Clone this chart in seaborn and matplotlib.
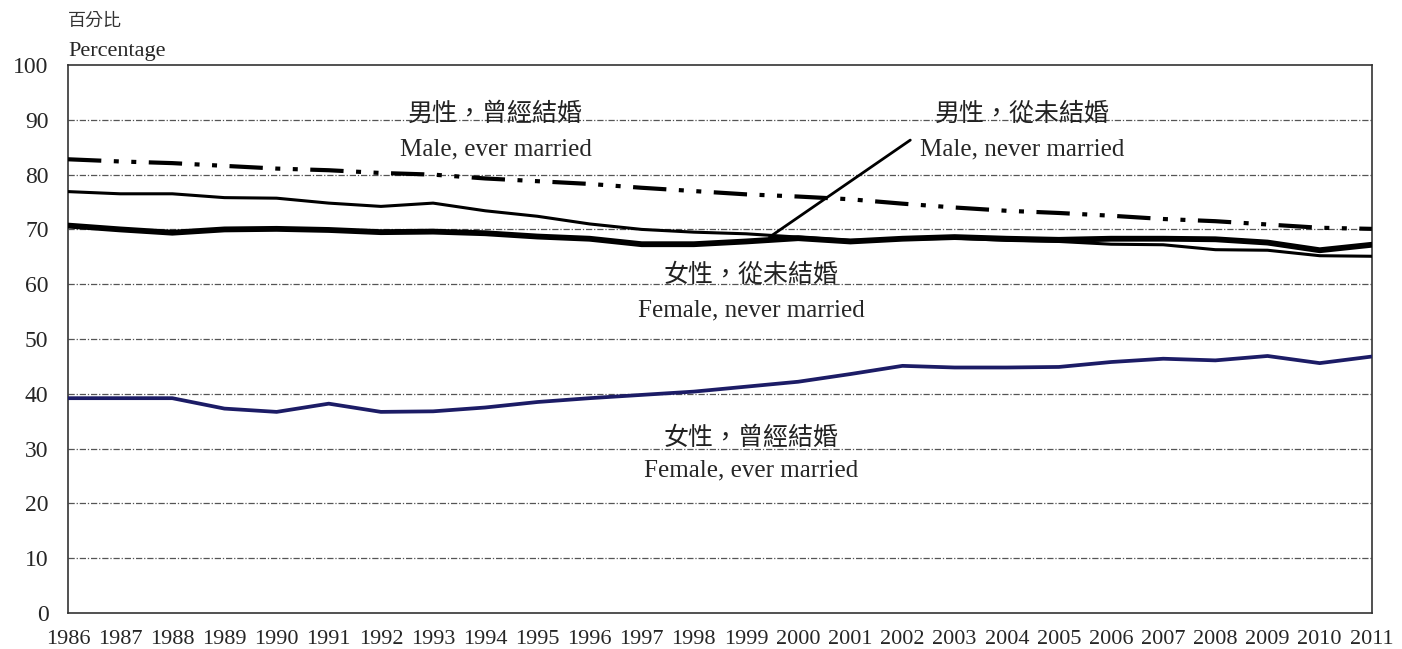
import numpy as np
import pandas as pd
import matplotlib
matplotlib.use("Agg")
import matplotlib.pyplot as plt
import seaborn as sns

years = list(range(1986, 2012))
male_ever = [82.8, 82.4, 82.1, 81.6, 81.1, 80.8, 80.3, 80.0, 79.3, 78.8, 78.3, 77.6, 77.0,
             76.4, 76.0, 75.5, 74.7, 74.0, 73.4, 73.0, 72.5, 71.9, 71.5, 70.9, 70.3, 70.1]
male_never = [76.9, 76.5, 76.5, 75.8, 75.7, 74.8, 74.2, 74.8, 73.4, 72.4, 71.0, 70.0, 69.5,
              69.2, 68.6, 68.0, 68.2, 68.4, 68.0, 67.8, 67.3, 67.2, 66.3, 66.2, 65.2, 65.1]
female_never = [70.7, 70.0, 69.4, 70.0, 70.1, 69.9, 69.5, 69.6, 69.3, 68.7, 68.3, 67.3, 67.3,
                67.8, 68.4, 67.8, 68.3, 68.6, 68.3, 68.1, 68.3, 68.3, 68.2, 67.6, 66.2, 67.2]
female_ever = [39.2, 39.2, 39.2, 37.3, 36.7, 38.2, 36.7, 36.8, 37.5, 38.5, 39.2, 39.8, 40.4,
               41.3, 42.2, 43.6, 45.1, 44.8, 44.8, 44.9, 45.8, 46.4, 46.1, 46.9, 45.6, 46.8]

y_ticks = list(range(0, 101, 10))

sns.set_style("white")
plt.rcParams['font.family'] = ['Liberation Serif', 'Noto Sans CJK TC']

fig = plt.figure(figsize=(14.02, 6.49), dpi=100)
ax = fig.add_axes([0.0485, 0.0555, 0.930, 0.8443])

# gridlines
for v in y_ticks[1:-1]:
    ax.axhline(v, color='#555555', lw=0.9, ls=(0, (5, 1.5, 1, 1.5)), zorder=0)

df = pd.DataFrame({"year": years, "male_ever": male_ever, "male_never": male_never,
                   "female_never": female_never, "female_ever": female_ever})

sns.lineplot(data=df, x="year", y="male_ever", ax=ax, color='black', lw=3.0,
             linestyle=(0, (8, 3, 1.2, 3, 1.2, 3)), zorder=3)
sns.lineplot(data=df, x="year", y="male_never", ax=ax, color='black', lw=2.2, zorder=3)
sns.lineplot(data=df, x="year", y="female_never", ax=ax, color='black', lw=4.2, zorder=4)
sns.lineplot(data=df, x="year", y="female_ever", ax=ax, color='#1c1c66', lw=2.7, zorder=3)

ax.set_xlim(1986, 2011)
ax.set_ylim(0, 100)
ax.set_xticks(years)
ax.set_xticklabels([str(y) for y in years], fontsize=16)
ax.set_yticks(y_ticks)
ax.set_yticklabels([str(v) for v in y_ticks], fontsize=17)
ax.tick_params(axis='x', direction='in', length=6, width=1, color='#333333', pad=12)
ax.tick_params(axis='y', length=0, pad=14)
ax.set_xlabel("")
ax.set_ylabel("")
for s in ax.spines.values():
    s.set_visible(True)
    s.set_color('#333333')
    s.set_linewidth(1.2)

# axis title
fig.text(0.0485, 0.968, "百分比", family=['Noto Sans CJK TC'], fontsize=13, color='#333333',
         ha='left', va='center')
fig.text(0.0485, 0.921, "Percentage", fontsize=16, ha='left', va='center')

# series labels
def label(x, y1, y2, zh, en):
    ax.text(x, y1, zh, family=['Noto Sans CJK TC'], fontsize=18, ha='center', va='center',
            color='#222222')
    ax.text(x, y2, en, fontsize=18, ha='center', va='center')

label(1994.2, 91.0, 84.6, "男性，曾經結婚", "Male, ever married")
label(2004.3, 91.0, 84.6, "男性，從未結婚", "Male, never married")
label(1999.1, 61.6, 55.2, "女性，從未結婚", "Female, never married")
label(1999.1, 32.0, 26.0, "女性，曾經結婚", "Female, ever married")

ax.plot([1999.45, 2002.15], [68.6, 86.3], color='black', lw=2.0, zorder=5)

fig.savefig("out.png", dpi=100, facecolor='white')
